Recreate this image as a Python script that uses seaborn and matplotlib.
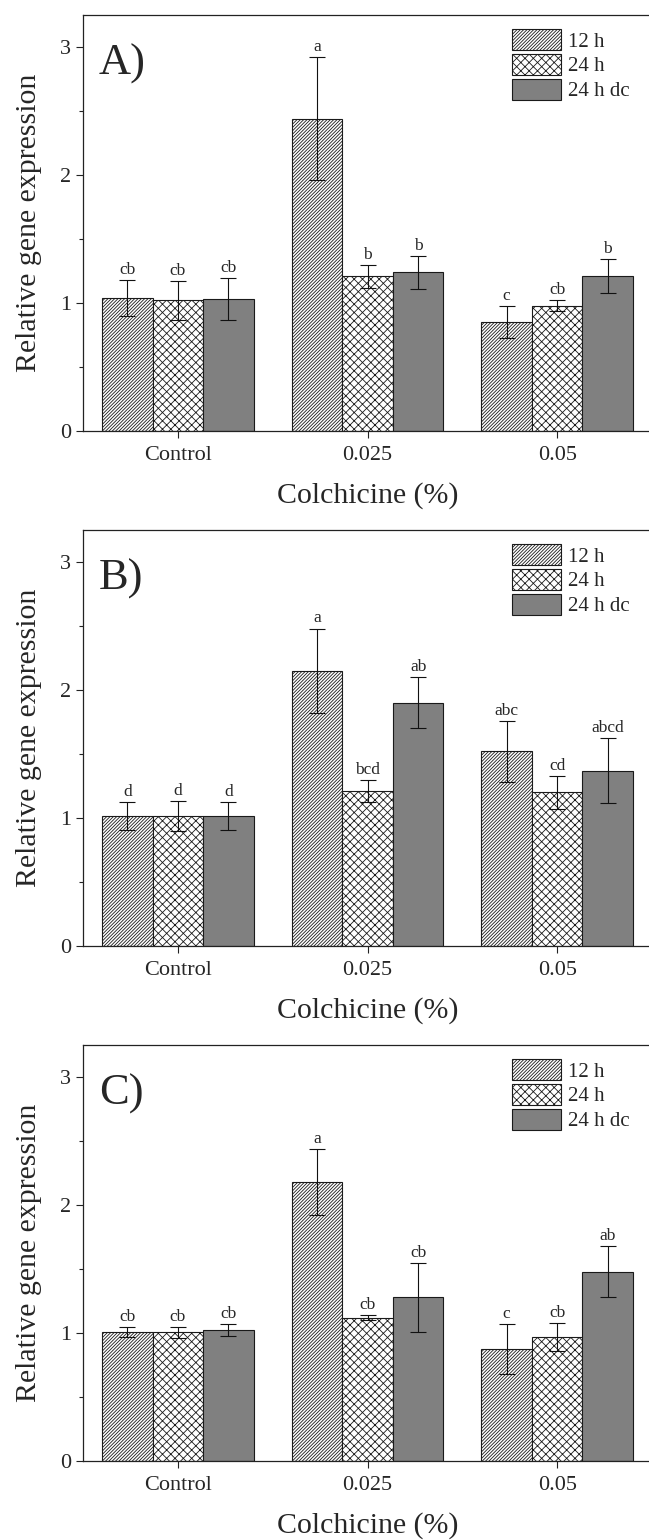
import numpy as np
import pandas as pd
import seaborn as sns
import matplotlib.pyplot as plt
from matplotlib.ticker import FixedLocator

# Data
concs = ["Control", "0.025", "0.05"]
times = ["12 h", "24 h", "24 h dc"]
panels = ["A)", "B)", "C)"]

# values are [time][conc]
a_mean = [[1.04, 2.44, 0.85], [1.02, 1.21, 0.98], [1.03, 1.24, 1.21]]
a_err = [[0.14, 0.48, 0.125], [0.155, 0.09, 0.045], [0.165, 0.13, 0.13]]
a_letters = [["cb", "a", "c"], ["cb", "b", "cb"], ["cb", "b", "b"]]

b_mean = [[1.015, 2.15, 1.52], [1.015, 1.21, 1.2], [1.015, 1.90, 1.37]]
b_err = [[0.11, 0.33, 0.24], [0.115, 0.085, 0.13], [0.11, 0.20, 0.255]]
b_letters = [["d", "a", "abc"], ["d", "bcd", "cd"], ["d", "ab", "abcd"]]

c_mean = [[1.005, 2.18, 0.875], [1.005, 1.12, 0.97], [1.025, 1.28, 1.48]]
c_err = [[0.04, 0.255, 0.197], [0.043, 0.018, 0.11], [0.048, 0.27, 0.20]]
c_letters = [["cb", "a", "c"], ["cb", "cb", "cb"], ["cb", "cb", "ab"]]

colors = ["white", "white", "#808080"]
hatches = ["//////////", "xxxx", ""]

sns.set_style("ticks")
plt.rcParams['font.family'] = ['Liberation Serif', 'DejaVu Serif']
plt.rcParams['hatch.linewidth'] = 0.6
plt.rcParams['xtick.direction'] = 'out'
plt.rcParams['ytick.direction'] = 'out'

fig = plt.figure(figsize=(6.49, 15.4), dpi=100)
left = 83 / 649
width = 569 / 649
height = 416 / 1540
bottoms = [1 - 431 / 1540, 1 - 946 / 1540, 1 - 1461 / 1540]

all_data = [(a_mean, a_err, a_letters), (b_mean, b_err, b_letters), (c_mean, c_err, c_letters)]

for k, (means, errs, letters) in enumerate(all_data):
    ax = fig.add_axes([left, bottoms[k], width, height])
    rows = []
    for i, t in enumerate(times):
        for j, c in enumerate(concs):
            rows.append({"conc": c, "time": t, "value": means[i][j]})
    df = pd.DataFrame(rows)
    sns.barplot(data=df, x="conc", y="value", hue="time", order=concs, hue_order=times,
                palette=colors, edgecolor="#1a1a1a", linewidth=0.8, width=0.8,
                errorbar=None, ax=ax, legend=False)

    bar_conts = list(ax.containers)
    for i, cont in enumerate(bar_conts):
        xs = []
        for p in cont.patches:
            p.set_hatch(hatches[i])
            xs.append(p.get_x() + p.get_width() / 2)
        tops = np.array(means[i]) + np.array(errs[i])
        ax.errorbar(xs, means[i], yerr=errs[i], fmt="none", ecolor="#111111",
                    elinewidth=0.8, capsize=5.5, capthick=0.8)
        for x, y, lab in zip(xs, tops, letters[i]):
            ax.annotate(lab, (x, y), xytext=(0, 1.5), textcoords="offset points",
                        ha="center", va="bottom", fontsize=12.5)

    ax.set_xlim(-0.5, 2.5)
    ax.set_ylim(0, 3.25)
    ax.set_yticks([0, 1, 2, 3])
    ax.yaxis.set_minor_locator(FixedLocator([0.5, 1.5, 2.5]))
    ax.tick_params(axis="both", which="major", labelsize=16, length=5, width=0.8, color="#222222")
    ax.tick_params(axis="x", pad=6)
    ax.tick_params(axis="y", which="minor", length=3, width=0.8, color="#222222")
    for s in ax.spines.values():
        s.set_linewidth(0.9)
        s.set_color("#222222")

    ax.set_xlabel("Colchicine (%)", fontsize=21.5)
    ax.set_ylabel("Relative gene expression", fontsize=21.5)
    ax.xaxis.set_label_coords(0.5, -0.123)
    ax.yaxis.set_label_coords(-0.072, 0.5)

    ax.text(0.028, 0.856, panels[k], transform=ax.transAxes, fontsize=32, va="baseline", ha="left")

    handles = [cont.patches[0] for cont in bar_conts]
    ax.legend(handles, times, loc="upper left", bbox_to_anchor=(0.754, 0.966),
              frameon=False, fontsize=15, handlelength=2.35, handleheight=1.15,
              labelspacing=0.12, handletextpad=0.35, borderpad=0, borderaxespad=0)

fig.savefig("out.png", dpi=100)
